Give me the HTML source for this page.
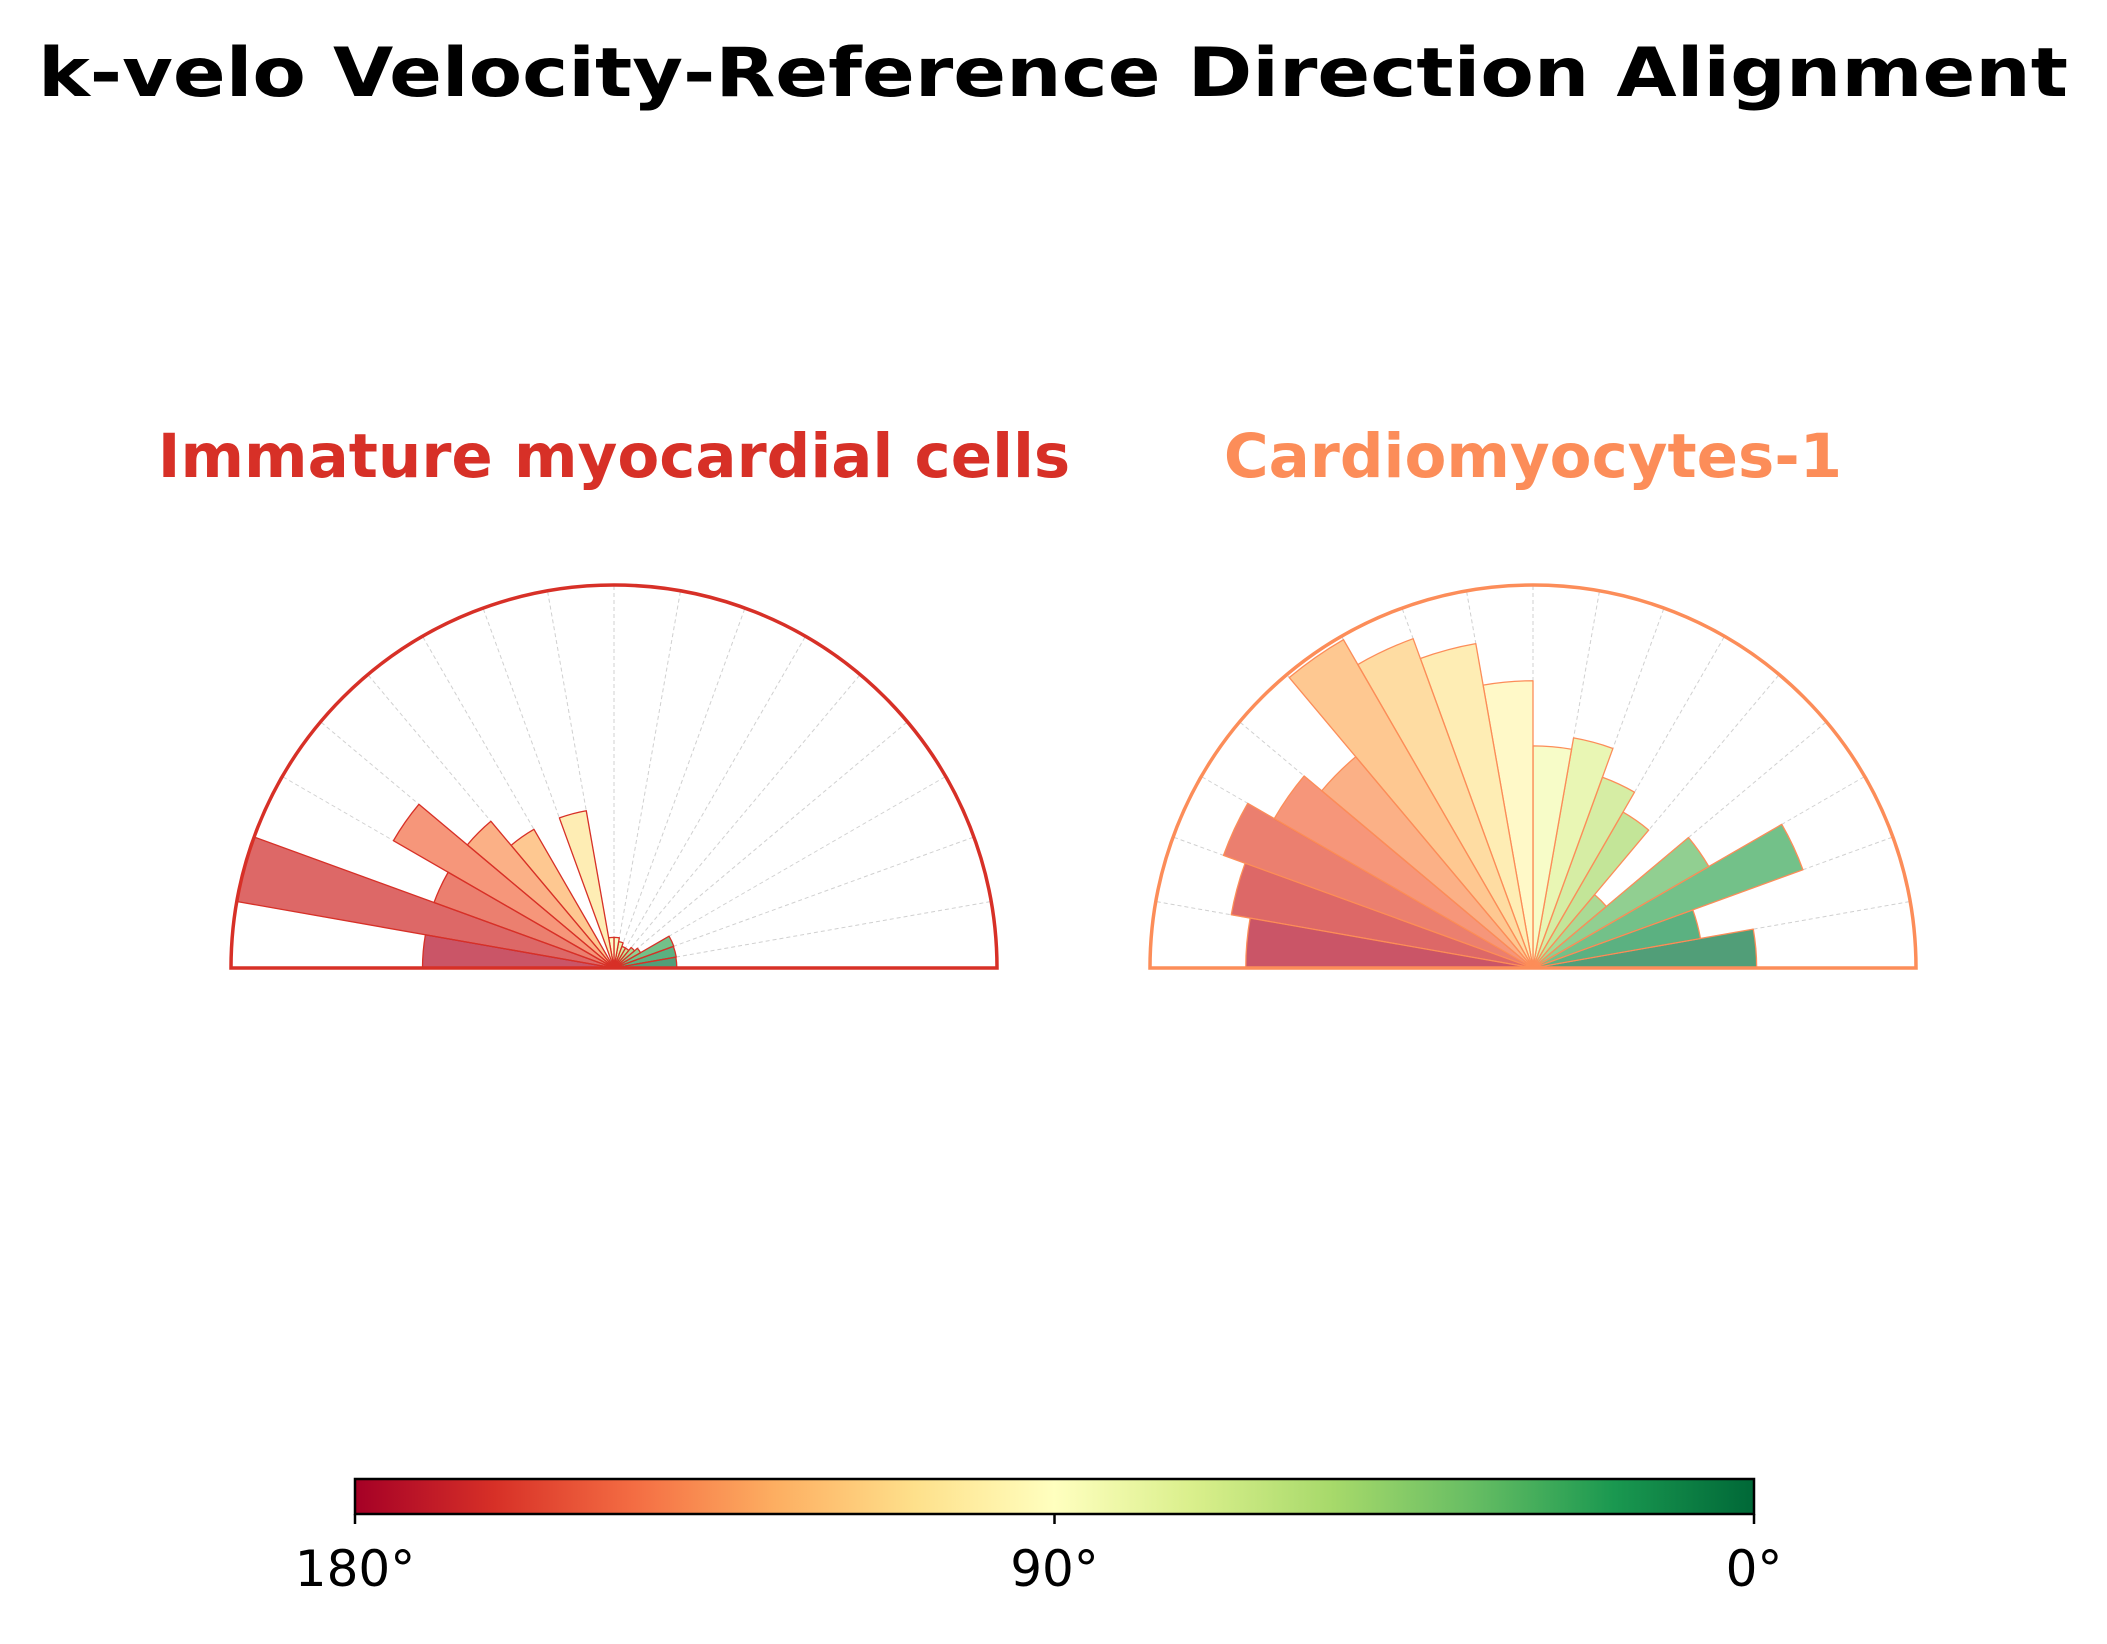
<!DOCTYPE html>
<html><head><meta charset="utf-8"><style>
html,body{margin:0;padding:0;background:#fff}
svg{display:block}
text{font-family:"DejaVu Sans","Liberation Sans",sans-serif}
</style></head><body>
<svg id="chart" width="2107" height="1644" viewBox="0 0 2107 1644" xmlns="http://www.w3.org/2000/svg">
<defs>
<linearGradient id="cbg" x1="0" x2="1" y1="0" y2="0"></linearGradient>
</defs>
<text x="1053" y="96" text-anchor="middle" font-size="68" font-weight="bold" textLength="2030" lengthAdjust="spacingAndGlyphs">k-velo Velocity-Reference Direction Alignment</text>
<g id="plots"></g>
<g id="colorbar"></g>
</svg>
<script>
// bin angles (deg, centers) 0..180 in 10 degree bins
const binCenters = [5,15,25,35,45,55,65,75,85,95,105,115,125,135,145,155,165,175];
// normalized radial lengths (fraction of outer radius)
const immatureValues = [0.164,0.165,0.166,0.08,0.07,0.06,0.06,0.07,0.08,0.08,0.417,0,0.418,0.50,0.665,0.50,1.0,0.50];
const cardioValues = [0.584,0.444,0.75,0.53,0.25,0.47,0.53,0.61,0.58,0.75,0.86,0.915,0.99,0.72,0.78,0.86,0.80,0.75];
const panelTitles = ["Immature myocardial cells","Cardiomyocytes-1"];
const panelColors = ["#d73027","#fc8d59"];
const cbTickValues = [180,90,0];
const cbTickLabels = ["180°","90°","0°"];

const NS="http://www.w3.org/2000/svg";
const RdYlGn=["#a50026","#d73027","#f46d43","#fdae61","#fee08b","#ffffbf","#d9ef8b","#a6d96a","#66bd63","#1a9850","#006837"];
function hex2rgb(h){return [1,3,5].map(i=>parseInt(h.substr(i,2),16));}
function cmap(t){t=Math.max(0,Math.min(1,t));const p=t*10,i=Math.min(9,Math.floor(p)),f=p-i;
 const a=hex2rgb(RdYlGn[i]),b=hex2rgb(RdYlGn[i+1]);
 return "rgb("+a.map((v,k)=>Math.round(v+(b[k]-v)*f)).join(",")+")";}
function el(tag,attrs,parent){const e=document.createElementNS(NS,tag);for(const k in attrs)e.setAttribute(k,attrs[k]);parent.appendChild(e);return e;}

const plots=document.getElementById('plots');
const centers=[[614,968],[1533,968]];
const R=383;
const series=[immatureValues,cardioValues];
function pt(cx,cy,r,deg){const a=deg*Math.PI/180;return [cx+r*Math.cos(a),cy-r*Math.sin(a)];}
for(let p=0;p<2;p++){
 const [cx,cy]=centers[p];
 const g=el('g',{},plots);
 
 
 const t=el('text',{x:cx,y:477,'text-anchor':'middle','font-size':61,'font-weight':'bold',fill:panelColors[p]},g);
 t.textContent=panelTitles[p];
 
 
 for(let d=0;d<=180;d+=10){const q=pt(cx,cy,R,d);
  const l=el('line',{x1:cx,y1:cy,x2:q[0],y2:q[1],stroke:'#d0d0d0','stroke-width':1,'stroke-dasharray':'4,3'},g);
  
  }
 const vals=series[p];
 for(let i=0;i<binCenters.length;i++){
  const r=vals[i]*R; if(r<=0)continue;
  const a1=binCenters[i]-5,a2=binCenters[i]+5;
  const q1=pt(cx,cy,r,a1),q2=pt(cx,cy,r,a2);
  const path=el('path',{d:`M${cx},${cy} L${q1[0]},${q1[1]} A${r},${r} 0 0 0 ${q2[0]},${q2[1]} Z`,
   fill:cmap(1-binCenters[i]/180),'fill-opacity':0.7,stroke:panelColors[p],'stroke-width':1.3,'stroke-linejoin':'round'},g);
  
  
 }
 const o=el('path',{d:`M${cx-R},${cy} A${R},${R} 0 0 1 ${cx+R},${cy} Z`,fill:'none',stroke:panelColors[p],'stroke-width':3.5},g);
 
 
}
// colorbar
const grad=document.getElementById('cbg');
for(let i=0;i<=20;i++){el('stop',{offset:(i/20),'stop-color':cmap(i/20)},grad);}
const cb=document.getElementById('colorbar');
const cbx0=355,cbx1=1754,cby0=1479,cby1=1514;
const bar=el('rect',{x:cbx0,y:cby0,width:cbx1-cbx0,height:cby1-cby0,fill:'url(#cbg)',stroke:'#000','stroke-width':2.5},cb);


function cbX(v){return cbx0+(180-v)/180*(cbx1-cbx0);}
for(let i=0;i<cbTickValues.length;i++){const x=cbX(cbTickValues[i]);
 const tk=el('line',{x1:x,y1:cby1,x2:x,y2:cby1+10,stroke:'#000','stroke-width':2.5},cb);
 
 
 const tl=el('text',{x:x,y:1586,'text-anchor':'middle','font-size':50},cb);
 tl.textContent=cbTickLabels[i];
 
 }
</script>
</body></html>
